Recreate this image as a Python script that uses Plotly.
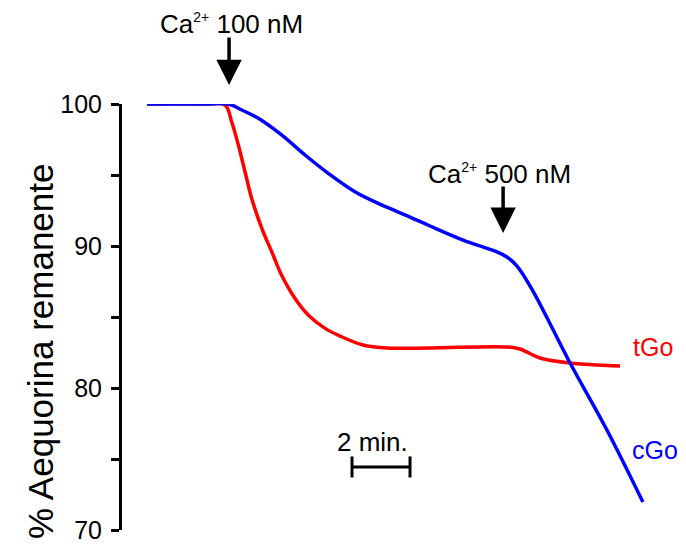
import plotly.graph_objects as go

# Time in minutes (from start of trace), % aequorin remaining
cgo_t = [0, 2.0, 2.80, 3.27, 3.84, 4.64, 5.45, 6.25, 7.17, 8.09, 9.07, 9.76, 10.90, 12.07, 12.41, 12.76, 13.31, 14.59, 15.86, 17.10]
cgo_v = [100, 100, 100, 99.58, 98.99, 97.82, 96.41, 95.12, 93.82, 92.89, 92.04, 91.41, 90.42, 89.58, 89.23, 88.59, 86.83, 81.76, 77.04, 71.97]

tgo_t = [0, 2.0, 2.69, 2.92, 3.15, 3.38, 3.61, 3.96, 4.30, 4.64, 5.10, 5.56, 6.14, 6.71, 7.45, 8.28, 9.76, 12.41, 12.86, 13.55, 14.59, 16.31]
tgo_v = [100, 100, 99.93, 98.75, 97.11, 95.23, 93.35, 91.24, 89.60, 87.96, 86.32, 85.14, 84.20, 83.61, 83.03, 82.82, 82.82, 82.89, 82.75, 82.11, 81.76, 81.55]

y_ticks = [70, 80, 90, 100]
ca100_t = 2.83
ca500_t = 12.28
ca500_v = 90.92
scale_bar_t0 = 7.07
scale_bar_len = 2
scale_bar_v = 74.44

FONT = "Liberation Sans, Arial, sans-serif"
SUP = '<sup><span style="font-size:14px">2+</span></sup>'

fig = go.Figure()
fig.add_trace(go.Scatter(x=tgo_t, y=tgo_v, mode="lines", cliponaxis=False,
                         line=dict(color="#ff0000", width=3.5, shape="spline", smoothing=1.0)))
fig.add_trace(go.Scatter(x=cgo_t, y=cgo_v, mode="lines", cliponaxis=False,
                         line=dict(color="#0000ff", width=3.5, shape="spline", smoothing=1.0)))
fig.add_trace(go.Scatter(x=[scale_bar_t0, scale_bar_t0 + scale_bar_len], y=[scale_bar_v, scale_bar_v],
                         mode="lines+markers", cliponaxis=False,
                         line=dict(color="black", width=3),
                         marker=dict(symbol="line-ns-open", size=15, line=dict(color="black", width=3))))

C = dict(xanchor="center", yanchor="middle", showarrow=False)
ann = []
ann.append(dict(x=ca100_t, y=1.0446, xref="x", yref="paper", ax=0, ay=-49, showarrow=True,
                arrowhead=2, arrowsize=1.45, arrowwidth=3.5, arrowcolor="black", text=""))
ann.append(dict(x=ca500_t, y=ca500_v, xref="x", yref="y", ax=0, ay=-48, showarrow=True,
                arrowhead=2, arrowsize=1.45, arrowwidth=3.5, arrowcolor="black", text=""))
ann.append(dict(x=2.9, y=1.187, xref="x", yref="paper", **C,
                text="Ca" + SUP + " 100 nM", font=dict(size=26, color="black", family=FONT)))
ann.append(dict(x=12.14, y=95.1, xref="x", yref="y", **C,
                text="Ca" + SUP + " 500 nM", font=dict(size=26, color="black", family=FONT)))
ann.append(dict(x=17.45, y=82.89, xref="x", yref="y", **C,
                text="tGo", font=dict(size=25, color="#ff0000", family=FONT)))
ann.append(dict(x=17.52, y=75.63, xref="x", yref="y", **C,
                text="cGo", font=dict(size=25, color="#0000ff", family=FONT)))
ann.append(dict(x=7.79, y=76.2, xref="x", yref="y", **C,
                text="2 min.", font=dict(size=26, color="black", family=FONT)))
ann.append(dict(x=-0.147, y=0.42, xref="paper", yref="paper", textangle=-90, **C,
                text="% Aequorina remanente", font=dict(size=35, color="black", family=FONT)))

# page body has an 8px margin, so the figure is 8px smaller and its margins shifted
fig.update_layout(
    width=678, height=542,
    margin=dict(l=114, r=6, t=96, b=20),
    paper_bgcolor="white", plot_bgcolor="white",
    showlegend=False,
    annotations=ann,
    xaxis=dict(visible=False, range=[-0.862, 18.38]),
    yaxis=dict(range=[70, 100], tickvals=y_ticks, showgrid=False, zeroline=False,
               showline=True, linecolor="black", linewidth=3,
               ticks="outside", ticklen=8, tickwidth=3, tickcolor="black",
               minor=dict(dtick=5, ticks="outside", ticklen=8, tickwidth=3, tickcolor="black", showgrid=False),
               tickfont=dict(size=25, color="black", family=FONT), ticklabelstandoff=4),
)

fig.write_html("out.html")
